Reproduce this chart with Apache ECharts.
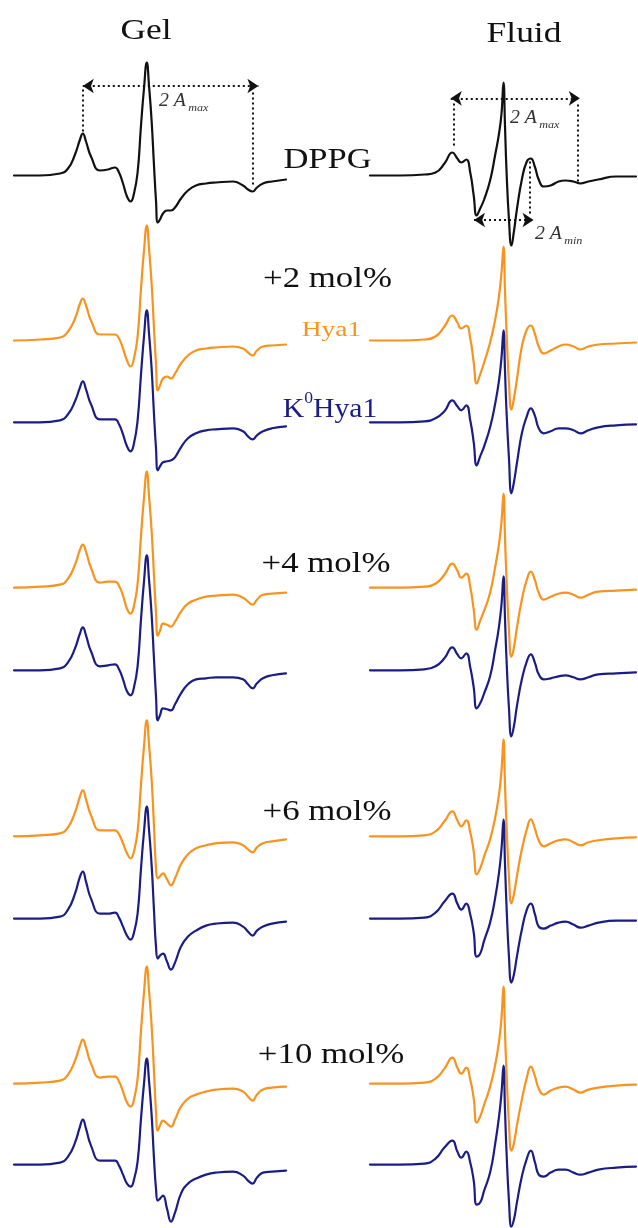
<!DOCTYPE html>
<html>
<head>
<meta charset="utf-8">
<script src="https://cdn.jsdelivr.net/npm/echarts@6/dist/echarts.min.js"></script>
<style>
  html, body { margin: 0; padding: 0; background: #ffffff; }
  #chart { width: 638px; height: 1228px; }
</style>
</head>
<body>
<div id="chart"></div>
<script>
// ---- Spectral data -------------------------------------------------------
// Magnetic field (G, relative to scan start) at the sampled points of each column
const gelField = [0, 13, 23, 27, 30.5, 33, 34.4, 36, 38.5, 43, 47, 50.5, 52.5, 54.5, 56.5, 58.3, 60, 61.8, 63.5, 65, 66.4, 67.5, 68.8, 70, 71, 71.9, 73, 74.5, 76.5, 78.5, 80.5, 83.5, 87, 91, 96, 101, 109.5, 114.5, 117, 119.3, 121.5, 124.5, 129, 136];
const fluidField = [1, 16, 28.5, 34, 38.5, 42.5, 45, 47, 49.5, 51.5, 53.25, 54.75, 56.5, 58.5, 61.5, 64, 66, 67.25, 68.25, 69, 69.75, 71, 72.25, 73.5, 75, 77.5, 80, 82, 84, 86, 88.5, 92, 96, 99.5, 103.5, 107, 111, 116, 125, 135];

// First-derivative EPR spectra (a.u.), gel phase
const gelDPPG    = [0,0,2,7,21,36,42,34,19,5, 6,8,3,-8,-21,-26,-18,3,50,87, 113,90,55,10,-25,-47,-44,-38,-35,-35, -32,-23,-15,-10,-8,-7,-6,-10,-14,-16, -12,-8,-6,-4];
const gelHya1_2  = [0,1,3,9,22,37,42,35,20,6, 6,6,2,-8,-20,-26,-18,4,52,90, 115,92,57,12,-24,-50,-45,-38,-36,-38, -33,-23,-15,-10,-8,-7,-6,-8,-12,-15, -10,-6,-5,-4];
const gelK0_2    = [0,0,2,8,21,35,41,33,18,3, 3,3,-2,-12,-24,-29,-21,2,48,86, 112,89,54,8,-26,-48,-44,-40,-39,-38, -35,-25,-16,-11,-8,-7,-6,-9,-14,-17, -13,-9,-6,-4];
const gelHya1_4  = [0,1,3,9,23,38,43,36,20,5, 6,6,2,-8,-21,-26,-18,4,52,90, 116,92,57,12,-25,-48,-43,-36,-37,-39, -34,-24,-16,-12,-9,-8,-7,-10,-14,-17, -12,-7,-6,-5];
const gelK0_4    = [0,0,2,8,22,37,43,35,19,4, 5,6,1,-9,-21,-25,-17,4,51,89, 115,91,56,11,-26,-50,-45,-38,-39,-40, -34,-23,-14,-9,-8,-7,-7,-9,-14,-18, -13,-8,-5,-3];
const gelHya1_6  = [0,1,3,9,24,40,46,37,21,6, 6,6,2,-7,-17,-22,-15,5,52,90, 116,92,57,10,-32,-42,-40,-37,-43,-49, -42,-28,-18,-12,-9,-7,-6,-9,-13,-16, -11,-7,-5,-3];
const gelK0_6    = [0,0,2,9,25,42,47,37,20,5, 5,6,1,-8,-17,-21,-14,5,50,87, 112,89,54,8,-28,-40,-37,-35,-43,-51, -44,-28,-18,-12,-7,-5,-4,-8,-13,-17, -12,-8,-5,-3];
const gelHya1_10 = [0,1,3,9,23,38,44,36,20,6, 7,7,2,-8,-19,-23,-16,5,53,91, 117,93,58,12,-28,-47,-42,-37,-40,-43, -36,-23,-15,-11,-8,-6,-5,-8,-13,-17, -11,-6,-4,-3];
const gelK0_10   = [0,0,2,8,22,38,45,36,19,4, 4,4,-1,-10,-19,-22,-15,3,46,81, 106,84,50,6,-24,-36,-34,-31,-44,-57, -48,-29,-19,-14,-10,-8,-7,-11,-16,-19, -13,-8,-7,-6];

// First-derivative EPR spectra (a.u.), fluid phase
const fluidDPPG    = [0,0,1,3,12,23,17,13,16,3, -20,-40,-33,-24,-5,20,42,62,93,50, 6,-44,-70,-56,-34,-4,14,17,9,-4, -11,-10,-6,-5,-6,-8,-6,-4,-1,-1];
const fluidHya1_2  = [0,0,1,4,14,25,18,12,15,2, -22,-43,-34,-22,-2,20,45,68,94,50, 10,-42,-69,-58,-39,-6,11,15,7,-6, -13,-10,-6,-4,-6,-9,-6,-4,-3,-2];
const fluidK0_2    = [0,0,1,4,11,22,16,12,17,2, -20,-43,-34,-24,-5,18,42,65,92,52, 12,-36,-71,-60,-41,-11,6,14,7,-6, -11,-9,-6,-6,-8,-11,-8,-5,-3,-2];
const fluidHya1_4  = [0,0,1,4,13,24,17,10,14,1, -22,-42,-33,-23,-5,20,44,66,94,50, 10,-42,-69,-60,-40,-12,8,16,8,-5, -12,-9,-6,-5,-7,-10,-7,-4,-3,-2];
const fluidK0_4    = [0,0,1,4,12,23,16,12,17,3, -17,-38,-33,-23,-6,20,44,66,94,52, 12,-38,-66,-56,-36,-9,9,16,8,-4, -9,-8,-6,-5,-7,-9,-7,-4,-3,-2];
const fluidHya1_6  = [0,0,1,5,15,25,16,10,16,4, -15,-38,-32,-20,-3,18,42,66,97,52, 12,-40,-67,-58,-40,-13,7,17,8,-4, -10,-7,-4,-3,-6,-9,-6,-4,-2,-1];
const fluidK0_6    = [0,0,1,6,17,25,15,9,15,4, -14,-38,-35,-22,-4,20,46,70,99,55, 14,-38,-64,-56,-38,-11,9,15,5,-8, -10,-7,-4,-3,-6,-9,-7,-4,-2,-2];
const fluidHya1_10 = [0,0,1,5,15,26,16,10,16,4, -15,-39,-33,-21,-3,18,42,66,97,52, 12,-40,-67,-60,-42,-16,6,17,8,-5, -11,-7,-4,-3,-6,-9,-6,-4,-2,-1];
const fluidK0_10   = [0,0,1,6,17,24,13,7,13,2, -16,-40,-38,-26,-8,20,48,72,99,55, 14,-36,-62,-55,-38,-12,6,14,3,-10, -12,-8,-5,-5,-8,-10,-8,-5,-3,-2];

// Row labels
const sampleLabels = ['+2 mol%', '+4 mol%', '+6 mol%', '+10 mol%'];
const columnTitles = ['Gel', 'Fluid'];

// ---- Layout --------------------------------------------------------------
// Vertical stacking offset of each trace (a.u., downward), top to bottom
const stackOffset = [175.5, 340.5, 422.3, 587.7, 670.3, 836.3, 918.6, 1083.6, 1164.6];
const BLACK = '#111111';
const ORANGE = '#f7931e';
const NAVY = '#1c1c86';
const SERIF = 'Liberation Serif';

const gelTraces = [gelDPPG, gelHya1_2, gelK0_2, gelHya1_4, gelK0_4, gelHya1_6, gelK0_6, gelHya1_10, gelK0_10];
const fluidTraces = [fluidDPPG, fluidHya1_2, fluidK0_2, fluidHya1_4, fluidK0_4, fluidHya1_6, fluidK0_6, fluidHya1_10, fluidK0_10];
const traceColor = [BLACK, ORANGE, NAVY, ORANGE, NAVY, ORANGE, NAVY, ORANGE, NAVY];

function stacked(field, values, row) {
  return field.map((f, i) => [f, values[i] - stackOffset[row]]);
}
// position on the stacked axis of a level measured from the DPPG baseline
const lvl = v => v - stackOffset[0];

const dotted = { color: '#111', width: 2, type: [2, 3] };
const noSym = { symbol: 'none' };

function seg(x1, y1, x2, y2, plain) {
  const a = { coord: [x1, lvl(y1)] }, b = { coord: [x2, lvl(y2)] };
  if (plain) { Object.assign(a, noSym); Object.assign(b, noSym); }
  return [a, b];
}

const gelMarks = {
  silent: true, animation: false,
  symbol: ['arrow', 'arrow'], symbolSize: 11,
  label: { show: false }, lineStyle: dotted,
  emphasis: { disabled: true },
  data: [
    seg(34.4, 89.5, 122.2, 89.5, false),
    seg(34.4, 86, 34.4, 44, true),
    seg(119.3, 83, 119.3, -12, true)
  ]
};
const fluidMarks = {
  silent: true, animation: false,
  symbol: ['arrow', 'arrow'], symbolSize: 11,
  label: { show: false }, lineStyle: dotted,
  emphasis: { disabled: true },
  data: [
    seg(41.7, 77.2, 106.7, 77.2, false),
    seg(43, 72, 43, 27, true),
    seg(105.9, 71, 105.9, -6, true),
    seg(53.4, -44.5, 83.4, -44.5, false),
    seg(81.7, 14, 81.7, -40, true)
  ]
};

const series = [];
function addColumn(traces, field, axis, marks) {
  traces.forEach((t, r) => {
    series.push({
      type: 'line', xAxisIndex: axis, yAxisIndex: axis,
      data: stacked(field, t, r),
      showSymbol: false, symbol: 'none', smooth: 0.5,
      lineStyle: { color: traceColor[r], width: 2.2, join: 'round', cap: 'round' },
      silent: true, animation: false, clip: false, z: r === 0 ? 3 : 2,
      markLine: r === 0 ? marks : undefined
    });
  });
}
addColumn(gelTraces, gelField, 0, gelMarks);
addColumn(fluidTraces, fluidField, 1, fluidMarks);

function label(text, x, y, size, color, sx) {
  return {
    type: 'text', x: x, y: y, scaleX: sx || 1.18, silent: true,
    style: { text: text, fontSize: size, fontFamily: SERIF, fill: color, align: 'center', verticalAlign: 'middle' }
  };
}
function ampLabel(sub, x, y) {
  return {
    type: 'text', x: x, y: y, scaleX: 1.1, silent: true,
    style: {
      text: '{a|2 A}{s|' + sub + '}', align: 'left', verticalAlign: 'top',
      rich: {
        a: { fontSize: 18, fontStyle: 'italic', fontFamily: SERIF, fill: '#333', verticalAlign: 'top' },
        s: { fontSize: 11, fontStyle: 'italic', fontFamily: SERIF, fill: '#333', verticalAlign: 'top', padding: [11, 0, 0, 2] }
      }
    }
  };
}

const rowLabelY = [279, 564, 812, 1055];
const rowLabelX = [327.5, 326, 327, 331];

const graphics = [
  label(columnTitles[0], 146, 31, 30, BLACK),
  label(columnTitles[1], 524, 34, 30, BLACK),
  label('DPPG', 327.5, 160.5, 30, BLACK, 1.15),
  label('Hya1', 331.5, 330, 22, ORANGE, 1.25),
  {
    type: 'text', x: 330, y: 407, scaleX: 1.1, silent: true,
    style: {
      text: '{k|K}{s|0}{k|Hya1}', align: 'center', verticalAlign: 'middle',
      rich: {
        k: { fontSize: 27, fontFamily: SERIF, fill: NAVY, verticalAlign: 'top', padding: [6, 0, 0, 0] },
        s: { fontSize: 16, fontFamily: SERIF, fill: NAVY, verticalAlign: 'top' }
      }
    }
  },
  ampLabel('max', 159, 92),
  ampLabel('max', 510, 109),
  ampLabel('min', 535, 225)
];
sampleLabels.forEach((t, i) => graphics.push(label(t, rowLabelX[i], rowLabelY[i], 29, BLACK, 1.2)));

const chart = echarts.init(document.getElementById('chart'), null, { renderer: 'canvas' });
chart.setOption({
  backgroundColor: '#ffffff',
  animation: false,
  grid: [
    { left: 14, top: 0, width: 272, height: 1228 },
    { left: 368, top: 0, width: 272, height: 1228 }
  ],
  xAxis: [
    { type: 'value', gridIndex: 0, min: 0, max: 136, show: false },
    { type: 'value', gridIndex: 1, min: 0, max: 136, show: false }
  ],
  yAxis: [
    { type: 'value', gridIndex: 0, min: -1228, max: 0, show: false },
    { type: 'value', gridIndex: 1, min: -1228, max: 0, show: false }
  ],
  series: series,
  graphic: { elements: graphics }
});
</script>
</body>
</html>
